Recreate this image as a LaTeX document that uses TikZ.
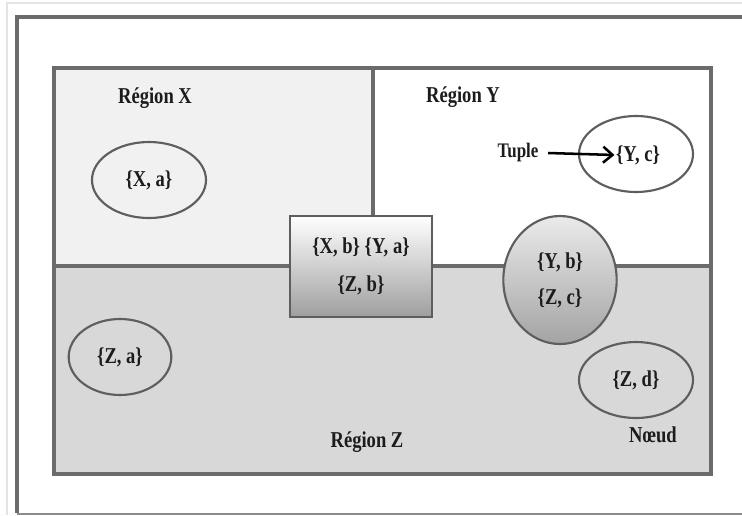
\documentclass[tikz,border=0pt]{standalone}
\usepackage{fontspec}
\setmainfont{Liberation Serif}[FakeStretch=0.82]
\usetikzlibrary{shapes.geometric,arrows.meta}
\definecolor{framegray}{HTML}{6B6B6B}
\definecolor{pagegray}{HTML}{E4E4E4}
\definecolor{regionX}{HTML}{F1F1F1}
\definecolor{regionZ}{HTML}{D8D8D8}
\definecolor{edgegray}{HTML}{5E5E5E}
\definecolor{inkgray}{HTML}{1C1C1C}

\begin{document}
\begin{tikzpicture}[x=0.75pt,y=-0.75pt,
  txt/.style={font=\fontsize{17}{20}\selectfont\bfseries, text=inkgray},
  lbl/.style={txt, inner sep=0pt},
  tuplebox/.style={ellipse, draw=edgegray, line width=1.6pt, minimum width=85.5pt,
    minimum height=57pt, inner sep=0pt, txt},
  bigtuple/.style={tuplebox, minimum width=85pt, minimum height=96pt,
    top color=white!92!black, bottom color=black!36, align=center},
  sharedbox/.style={rectangle, draw=edgegray, line width=2.2pt, minimum width=106.5pt,
    minimum height=75.75pt, inner sep=0pt, top color=white, bottom color=black!38,
    txt, align=center},
  regionline/.style={draw=framegray, line width=2.3pt}]

  \useasboundingbox (0,0) rectangle (742,515);

  % page edges and outer frame
  \draw[pagegray, line width=1.2pt] (7,515) -- (7,3) -- (742,3);
  \draw[framegray, line width=2.3pt] (17,513) -- (17,17) -- (750,17);
  \draw[black!45, line width=1.5pt] (17,513.5) -- (742,513.5);

  % region corners
  \coordinate (tl) at (54,68);
  \coordinate (br) at (711,474);
  \coordinate (ml) at (54,266);
  \coordinate (mr) at (711,266);
  \coordinate (mt) at (373,68);
  \coordinate (mm) at (373,266);

  % region fills
  \fill[regionX] (tl) rectangle (mm);
  \fill[white] (mt) rectangle (mr);
  \fill[regionZ] (ml) rectangle (br);

  % region borders
  \draw[regionline] (tl) rectangle (br);
  \draw[regionline] (ml) -- (mr);
  \draw[regionline] (mt) -- (mm);

  % region titles
  \node[lbl, anchor=base] (rx) at (155,103) {Région X};
  \node[lbl, anchor=base] (ry) at (463,102) {Région Y};
  \node[lbl, anchor=base] (rz) at (367,447) {Région Z};
  \node[lbl, anchor=base] (nd) at (653,442) {Nœud};

  % tuples
  \node[tuplebox] (xa) at (149,180) {\{X, a\}};
  \node[tuplebox, minimum width=77pt] (za) at (120,357) {\{Z, a\}};
  \node[tuplebox] (zd) at (636,380) {\{Z, d\}};
  \node[tuplebox] (ycshape) at (636,154) {};
  \node[lbl] (yc) at (638,155) {\{Y, c\}};

  % tuples shared by regions
  \node[sharedbox] (xyz) at (361,266.5) {\{X, b\} \{Y, a\}\\[9pt]\{Z, b\}};
  \node[bigtuple] (yz) at (560,280) {\{Y, b\}\\[7pt]\{Z, c\}};

  % tuple pointer
  \node[lbl, font=\fontsize{15.5}{18}\selectfont\bfseries] (tuple) at (518,153) {Tuple};
  \draw[-{Straight Barb[length=7pt,width=12pt]}, line width=1.9pt, black]
    ([xshift=7pt]tuple.east) -- ([xshift=-1pt]yc.west);
\end{tikzpicture}
\end{document}
